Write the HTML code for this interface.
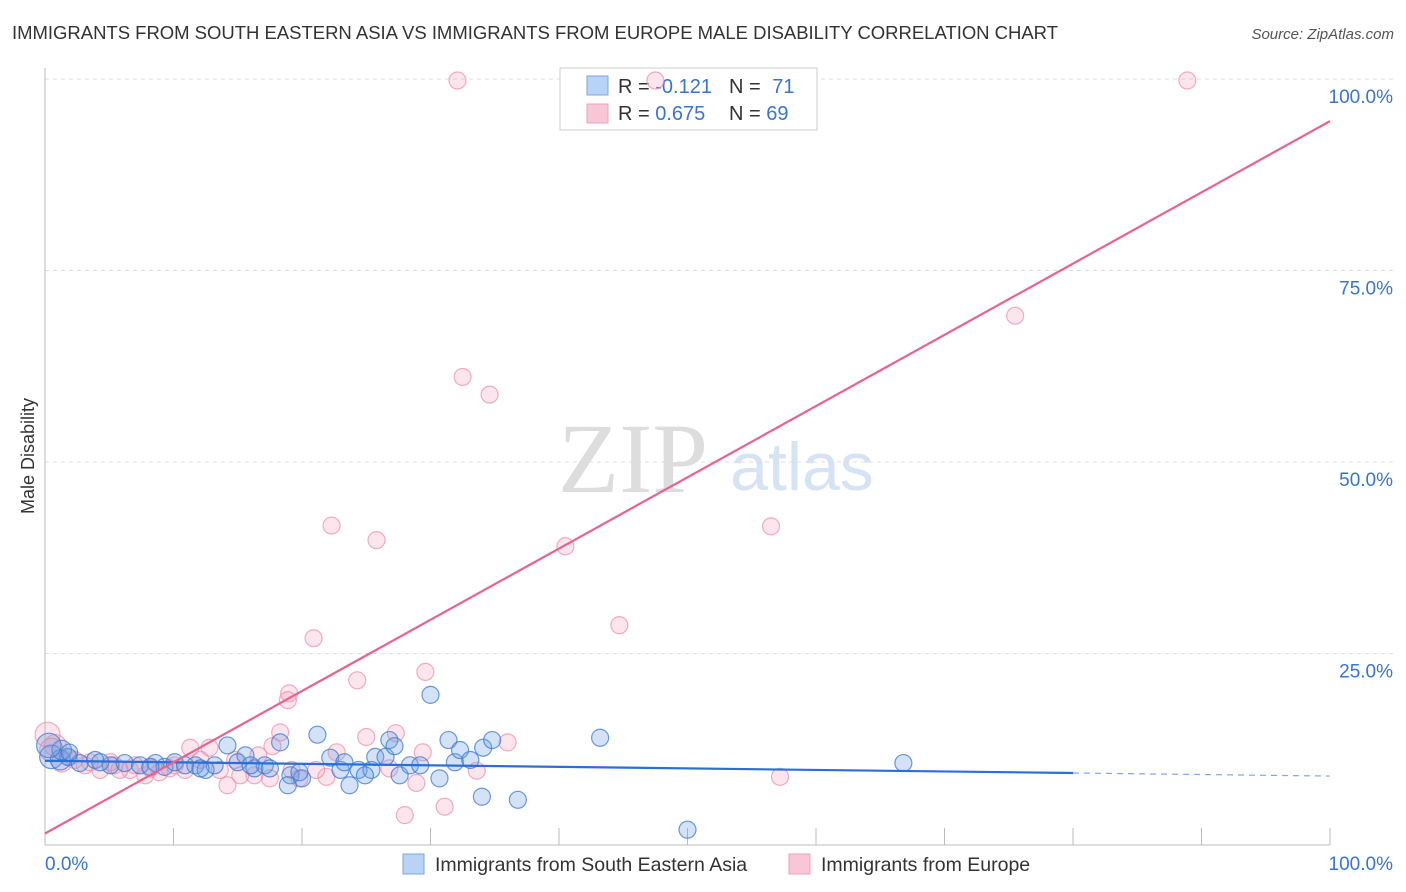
<!DOCTYPE html>
<html><head><meta charset="utf-8"><style>
body{margin:0;background:#fff;font-family:"Liberation Sans",sans-serif;}
svg{display:block}
</style></head><body>
<svg id="chart" width="1406" height="892" xmlns="http://www.w3.org/2000/svg">
<text x="12" y="39" font-size="18.5" fill="#333" textLength="1046">IMMIGRANTS FROM SOUTH EASTERN ASIA VS IMMIGRANTS FROM EUROPE MALE DISABILITY CORRELATION CHART</text>
<text x="1394" y="39" font-size="15" fill="#555" font-style="italic" text-anchor="end">Source: ZipAtlas.com</text>
<text x="633" y="492" font-size="100" fill="#ddd" font-family="Liberation Serif,serif" text-anchor="middle">ZIP</text>
<text x="802" y="490" font-size="68" fill="#d6e3f5" text-anchor="middle">atlas</text>
<g id="grid"></g>
<g id="axes"></g>
<g>
<rect x="560" y="68" width="257" height="62" fill="#fff" stroke="#ccc"/>
<rect x="587" y="76" width="21" height="19" fill="#b8d3f5" stroke="#7aa7e0"/>
<rect x="587" y="104" width="21" height="19" fill="#f9c6d5" stroke="#eea0b9"/>
<text x="618" y="93" font-size="20" fill="#333">R = <tspan fill="#3a74d0">-0.121</tspan></text>
<text x="729" y="93" font-size="20" fill="#333">N = <tspan fill="#3a74d0" dx="6">71</tspan></text>
<text x="618" y="120" font-size="20" fill="#333">R = <tspan fill="#3a74d0">0.675</tspan></text>
<text x="729" y="120" font-size="20" fill="#333">N = <tspan fill="#3a74d0">69</tspan></text>
</g>
<g id="pts"></g>
<g id="lines"></g>
<text transform="translate(34,456) rotate(-90)" font-size="18" fill="#333" text-anchor="middle">Male Disability</text>
<g>
<rect x="403" y="854" width="21" height="20" fill="#b8d3f5" stroke="#7aa7e0"/>
<text x="435" y="871" font-size="19.5" fill="#333">Immigrants from South Eastern Asia</text>
<rect x="789" y="854" width="21" height="20" fill="#f9c6d5" stroke="#eea0b9"/>
<text x="821" y="871" font-size="19.5" fill="#333">Immigrants from Europe</text>
</g>
</svg>
<script>
const yTicks=[25,50,75,100];
const yTickLabels=["25.0%","50.0%","75.0%","100.0%"];
const xEndLabels=["0.0%","100.0%"];
const blueX=[0.5,1.2,1.8,2.7,3.9,5.1,6.2,7.4,8.6,9.3,10.1,10.9,11.7,12.5,13.2,14.2,15.0,15.6,16.3,17.1,18.3,19.1,18.9,20.0,21.2,22.2,23.0,23.7,24.4,25.4,25.7,26.5,26.8,27.2,27.6,28.4,29.2,30.0,30.7,31.4,31.9,32.3,33.1,34.1,34.8,34.0,36.8,43.2,50.0,66.8,1.3,1.9,4.3,8.2,12.1,17.5,19.8,23.3,24.9,16.0,0.3];
const blueY=[11.5,11.1,11.5,10.7,11.1,10.4,10.7,10.4,10.7,10.2,10.8,10.4,10.4,9.8,10.4,13.0,10.8,11.7,10.0,10.4,13.4,9.1,7.8,8.7,14.4,11.4,9.8,7.8,9.8,9.8,11.5,11.5,13.7,12.9,9.1,10.4,10.4,19.6,8.7,13.7,10.8,12.4,11.1,12.7,13.7,6.3,5.9,14.0,2.0,10.7,12.4,12.1,10.8,10.2,10.0,10.0,9.5,10.8,9.1,10.4,13.0];
const pinkX=[32.1,47.5,88.9,75.5,32.5,34.6,22.3,25.8,40.5,56.5,44.7,20.9,24.3,29.6,19.0,18.9,18.3,27.3,25.0,36.0,33.6,57.2,31.1,28.0,28.9,22.7,29.4,19.2,21.9,26.8,17.5,16.6,17.7,15.2,14.2,13.6,12.8,11.3,10.9,9.7,8.9,7.8,6.6,5.4,4.3,3.1,1.9,0.8,0.2,0.5,5.8,7.0,8.2,10.1,12.1,14.8,16.3,19.8,21.1,3.5,5.1,1.3,2.3];
const pinkY=[99.8,99.8,99.8,69.1,61.1,58.8,41.7,39.8,39.0,41.6,28.7,27.0,21.5,22.6,19.8,18.9,14.7,14.6,14.1,13.4,9.7,8.9,5.0,3.9,8.1,12.1,12.1,9.8,8.9,10.0,8.7,11.7,12.9,9.1,7.8,9.8,12.7,12.7,9.8,10.0,9.5,9.1,9.8,10.4,9.8,10.4,11.4,13.0,14.4,12.4,9.8,10.4,10.0,10.4,11.1,11.1,9.1,8.7,9.8,10.8,10.8,10.8,11.1];
const blueLine=[0,11.0,80,9.4,100,9.0];
const pinkLine=[0,1.5,100,94.5];
const X0=45,X1=1330,Y0=845,Y100=79;
const sx=v=>X0+(X1-X0)*v/100;
const sy=v=>Y0-(Y0-Y100)*v/100;
const NS="http://www.w3.org/2000/svg";
function mk(tag,attrs,parent){const e=document.createElementNS(NS,tag);for(const k in attrs)e.setAttribute(k,attrs[k]);parent.appendChild(e);return e;}
const grid=document.getElementById('grid'),axes=document.getElementById('axes'),pts=document.getElementById('pts'),lines=document.getElementById('lines');
yTicks.forEach((t,i)=>{
 const l=mk('line',{x1:X0,x2:1394,y1:sy(t),y2:sy(t),stroke:'#ddd','stroke-dasharray':'4,4'},grid);
 
 
 const tx=mk('text',{x:1393,y:sy(t)+24,'font-size':19,fill:'#3a74d0','text-anchor':'end'},axes);
 tx.textContent=yTickLabels[i];
 
 
});
const ax=mk('line',{x1:X0,x2:X0,y1:68,y2:Y0,stroke:'#bbb'},axes);


const bx=mk('line',{x1:X0,x2:X1,y1:Y0,y2:Y0,stroke:'#bbb'},axes);


for(let i=1;i<=10;i++){
 const t=mk('line',{x1:sx(i*10),x2:sx(i*10),y1:828,y2:Y0,stroke:'#bbb'},axes);
 
 
}
const xl=mk('text',{x:45,y:870,'font-size':19,fill:'#3a74d0'},axes);xl.textContent=xEndLabels[0];


const xr=mk('text',{x:1393,y:870,'font-size':19,fill:'#3a74d0','text-anchor':'end'},axes);xr.textContent=xEndLabels[1];


function dots(X,Y,fill,stroke,name){
 X.forEach((x,i)=>{
  const big=x<2?(13-x*2.5):8.5;
  const c=mk('circle',{cx:sx(x),cy:sy(Y[i]),r:big,fill:fill,stroke:stroke,'stroke-width':1.2},pts);
  
  
 });
}
dots(pinkX,pinkY,'rgba(244,160,188,0.28)','rgba(236,140,170,0.7)','point-europe');
dots(blueX,blueY,'rgba(110,160,230,0.3)','rgba(60,120,210,0.75)','point-sea');
const bl=mk('line',{x1:sx(blueLine[0]),y1:sy(blueLine[1]),x2:sx(blueLine[2]),y2:sy(blueLine[3]),stroke:'#2a6fd6','stroke-width':2.2},lines);


const bd=mk('line',{x1:sx(blueLine[2]),y1:sy(blueLine[3]),x2:sx(blueLine[4]),y2:sy(blueLine[5]),stroke:'#2a6fd6','stroke-width':1.2,'stroke-dasharray':'6,5',opacity:0.6},lines);


const pl=mk('line',{x1:sx(pinkLine[0]),y1:sy(pinkLine[1]),x2:sx(pinkLine[2]),y2:sy(pinkLine[3]),stroke:'#e8638f','stroke-width':2.2},lines);


</script>
</body></html>
